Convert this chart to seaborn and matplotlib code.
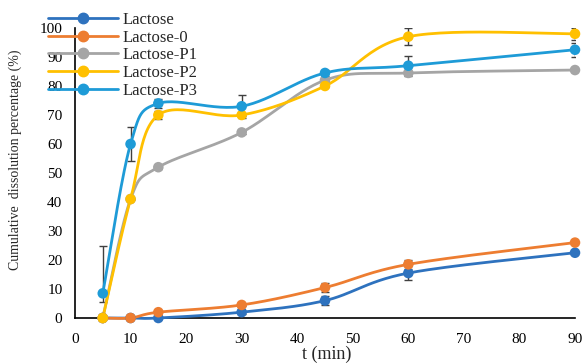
import numpy as np
import pandas as pd
import matplotlib
matplotlib.use("Agg")
import matplotlib.pyplot as plt
from matplotlib.lines import Line2D
import seaborn as sns

# dissolution data
t_min = [5, 10, 15, 30, 45, 60, 90]
lactose = [0, 0, 0, 2, 6, 15.5, 22.5]
lactose_0 = [0, 0, 2, 4.5, 10.5, 18.5, 26]
lactose_p1 = [0, 41, 52, 64, 82, 84.5, 85.5]
lactose_p2 = [0, 41, 70, 70, 80, 97, 98]
lactose_p3 = [8.5, 60, 74, 73, 84.5, 87, 92.5]

err_lactose = [0, 0, 0, 0.5, 1.5, 2.5, 0.5]
err_lactose_0 = [0, 0, 0.5, 0.5, 1.5, 1.5, 0.5]
err_p1 = [0, 0, 0.5, 0.5, 0.5, 0.5, 0.5]
err_p2 = [0, 0, 1.5, 0.5, 0.5, 3, 2]
err_p3_low = [3, 6, 1.5, 4, 1, 3.5, 2.5]
err_p3_high = [16.5, 6, 1.5, 4, 1, 3.5, 2.5]

labels = ["Lactose", "Lactose-0", "Lactose-P1", "Lactose-P2", "Lactose-P3"]
colors = ["#2E72BE", "#ED7D31", "#A5A5A5", "#FFC000", "#1E9BD7"]


def smooth_curve(x, y, n=30):
    """Excel-style smoothed line (cubic Bezier through the points)."""
    pts = np.column_stack([x, y]).astype(float)
    ext = np.vstack([pts[0], pts, pts[-1]])
    xs, ys = [], []
    s = np.linspace(0, 1, n)
    for i in range(1, len(ext) - 2):
        p0, p3 = ext[i], ext[i + 1]
        p1 = p0 + (ext[i + 1] - ext[i - 1]) / 6
        p2 = p3 - (ext[i + 2] - ext[i]) / 6
        b = ((1 - s) ** 3)[:, None] * p0 + (3 * (1 - s) ** 2 * s)[:, None] * p1 \
            + (3 * (1 - s) * s ** 2)[:, None] * p2 + (s ** 3)[:, None] * p3
        xs.extend(b[:, 0])
        ys.extend(b[:, 1])
    return pd.DataFrame({"t": xs, "v": ys})


sns.set_style("white")
plt.rcParams["font.family"] = ["Liberation Serif", "DejaVu Serif"]

fig = plt.figure(figsize=(5.82, 3.63), dpi=100)
ax = fig.add_axes([75 / 582, 1 - 318 / 363, 500 / 582, 290 / 363])

series = [lactose, lactose_0, lactose_p1, lactose_p2, lactose_p3]
errs = [
    (err_lactose, err_lactose),
    (err_lactose_0, err_lactose_0),
    (err_p1, err_p1),
    (err_p2, err_p2),
    (err_p3_low, err_p3_high),
]

for vals, (lo, hi), col in zip(series, errs, colors):
    curve = smooth_curve(t_min, vals)
    sns.lineplot(data=curve, x="t", y="v", sort=False, estimator=None,
                 color=col, lw=2, ax=ax, clip_on=False, zorder=3)
    ax.errorbar(t_min, vals, yerr=[lo, hi], fmt="none", ecolor="#404040",
                elinewidth=1, capsize=3, capthick=1, zorder=2)
    pts = pd.DataFrame({"t": t_min, "v": vals})
    sns.scatterplot(data=pts, x="t", y="v", color=col, s=58, edgecolor="none",
                    ax=ax, clip_on=False, zorder=4)

ax.set_xlim(0, 90)
ax.set_ylim(0, 100)
ax.set_xticks(range(0, 91, 10))
ax.set_yticks(range(0, 101, 10))
ax.tick_params(direction="in", length=4, width=1, colors="black", labelsize=11)
ax.tick_params(axis="x", pad=11)
ax.tick_params(axis="y", pad=9)
for side in ["top", "right"]:
    ax.spines[side].set_visible(False)
for side in ["left", "bottom"]:
    ax.spines[side].set_color("black")
    ax.spines[side].set_linewidth(1.2)

ax.set_xlabel("t (min)", fontsize=13)
ax.xaxis.set_label_coords(0.504, -0.095)
ax.set_ylabel("Cumulative  dissolution percentage (%)", fontsize=10)
ax.yaxis.set_label_coords(-0.106, 0.545)

handles = [Line2D([0], [0], color=c, lw=2, marker="o", markersize=7.5)
           for c in colors]
fig.legend(handles, labels, loc="upper left", bbox_to_anchor=(48 / 582, 1 - 12 / 363),
           frameon=False, fontsize=12, handlelength=4.2, handletextpad=0.3,
           labelspacing=0.1, borderpad=0, borderaxespad=0)

fig.savefig("out.png", dpi=100)
